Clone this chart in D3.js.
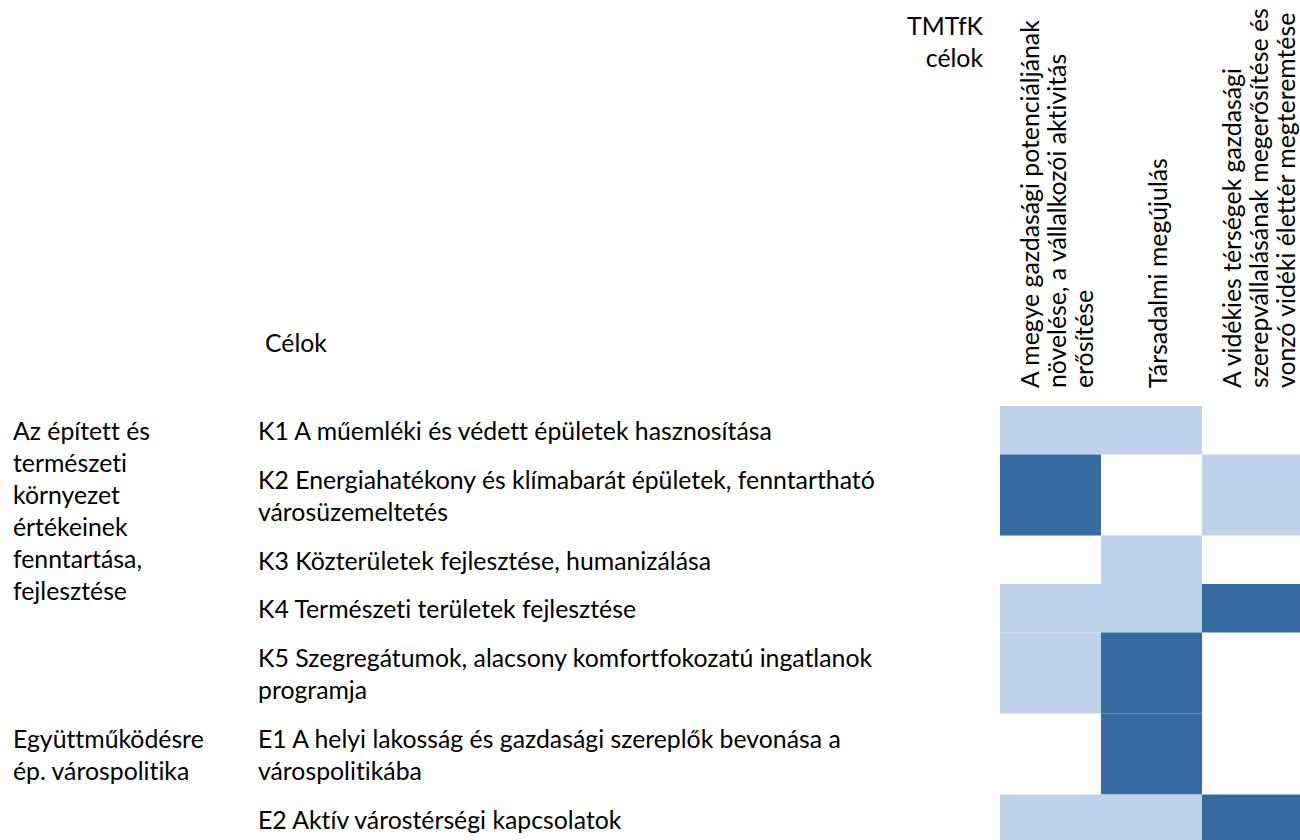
<!DOCTYPE html>
<html lang="hu">
<head>
  <meta charset="UTF-8">
  <title>TMTfK célok</title>
  <script src="https://d3js.org/d3.v7.min.js"></script>
  <style>
    body {
      margin: 0;
      background: #fff;
      font-family: Lato, "Open Sans", sans-serif;
    }
    svg text {
      fill: #000;
      font-variant-ligatures: none;
    }
  </style>
</head>
<body>
  <script>
    const width = 1300;
    const height = 840;

    // TMTfK célok (oszlopok)
    const columns = [
      ["A megye gazdasági potenciáljának", "növelése, a vállalkozói aktivitás", "erősítése"],
      ["Társadalmi megújulás"],
      ["A vidékies térségek gazdasági", "szerepvállalásának megerősítése és", "vonzó vidéki élettér megteremtése"]
    ];

    // Célok (sorok)
    const goals = [
      ["K1 A műemléki és védett épületek hasznosítása"],
      ["K2 Energiahatékony és klímabarát épületek, fenntartható", "városüzemeltetés"],
      ["K3 Közterületek fejlesztése, humanizálása"],
      ["K4 Természeti területek fejlesztése"],
      ["K5 Szegregátumok, alacsony komfortfokozatú ingatlanok", "programja"],
      ["E1 A helyi lakosság és gazdasági szereplők bevonása a", "várospolitikába"],
      ["E2 Aktív várostérségi kapcsolatok"]
    ];

    // Célcsoportok: szöveg + első sor indexe
    const groups = [
      { first: 0, lines: ["Az épített és", "természeti", "környezet", "értékeinek", "fenntartása,", "fejlesztése"] },
      { first: 5, lines: ["Együttműködésre", "ép. várospolitika"] }
    ];

    // kapcsolat erőssége: 0 nincs, 1 gyenge, 2 erős
    const links = [
      [1, 1, 0],
      [2, 0, 1],
      [0, 1, 0],
      [1, 1, 2],
      [1, 2, 0],
      [0, 2, 0],
      [1, 1, 2]
    ];

    const fontSize = 24.8;
    const lineH = 32;
    const colLineH = 27;

    const svg = d3.select("body")
      .append("svg")
      .attr("width", width)
      .attr("height", height)
      .style("font-size", fontSize + "px");

    // columns
    const x = d3.scaleBand()
      .domain(d3.range(columns.length))
      .range([1000, 1303])
      .paddingInner(0);

    // row tops from the number of text lines in each row
    const rowH = goals.map(g => 16 + 32.5 * g.length);
    const rowTop = [];
    rowH.reduce((acc, h, i) => { rowTop[i] = acc; return acc + h; }, 0);
    const y = d3.scaleLinear()
      .domain([0, d3.sum(rowH)])
      .range([406, 406 + d3.sum(rowH)]);

    const color = d3.scaleOrdinal()
      .domain([0, 1, 2])
      .range(["none", "#bdd3e9", "#366ba1"]);

    // cells
    const cells = [];
    links.forEach((row, r) => row.forEach((v, c) => cells.push({ r, c, v })));

    svg.append("g")
      .selectAll("rect")
      .data(cells.filter(d => d.v > 0))
      .join("rect")
      .attr("x", d => x(d.c))
      .attr("y", d => y(rowTop[d.r]))
      .attr("width", x.bandwidth())
      .attr("height", d => y(rowTop[d.r] + rowH[d.r]) - y(rowTop[d.r]))
      .attr("fill", d => color(d.v));

    // header
    svg.append("text")
      .attr("text-anchor", "end")
      .selectAll("tspan")
      .data(["TMTfK", "célok"])
      .join("tspan")
      .attr("x", 983)
      .attr("y", (d, i) => 35 + i * lineH)
      .text(d => d);

    svg.append("text")
      .attr("x", 265)
      .attr("y", 352)
      .text("Célok");

    // rotated column headers
    const colHead = svg.append("g")
      .selectAll("text")
      .data(columns)
      .join("text")
      .attr("transform", "translate(0,388) rotate(-90)");

    colHead.selectAll("tspan")
      .data((d, i) => d.map((t, k) => ({ t, k, n: d.length, c: i })))
      .join("tspan")
      .attr("x", 0)
      .attr("y", d => x(d.c) + x.bandwidth() / 2 + 15 + (d.k - (d.n - 1) / 2) * colLineH)
      .text(d => d.t);

    // goal labels
    const goalText = svg.append("g")
      .selectAll("text")
      .data(goals)
      .join("text");

    goalText.selectAll("tspan")
      .data((d, i) => d.map((t, k) => ({ t, k, r: i })))
      .join("tspan")
      .attr("x", 258)
      .attr("y", d => y(rowTop[d.r]) + 34 + d.k * lineH)
      .text(d => d.t);

    // group labels
    const groupText = svg.append("g")
      .selectAll("text")
      .data(groups)
      .join("text");

    groupText.selectAll("tspan")
      .data(d => d.lines.map((t, k) => ({ t, k, r: d.first })))
      .join("tspan")
      .attr("x", 13)
      .attr("y", d => y(rowTop[d.r]) + 34 + d.k * lineH)
      .text(d => d.t);
  </script>
</body>
</html>
